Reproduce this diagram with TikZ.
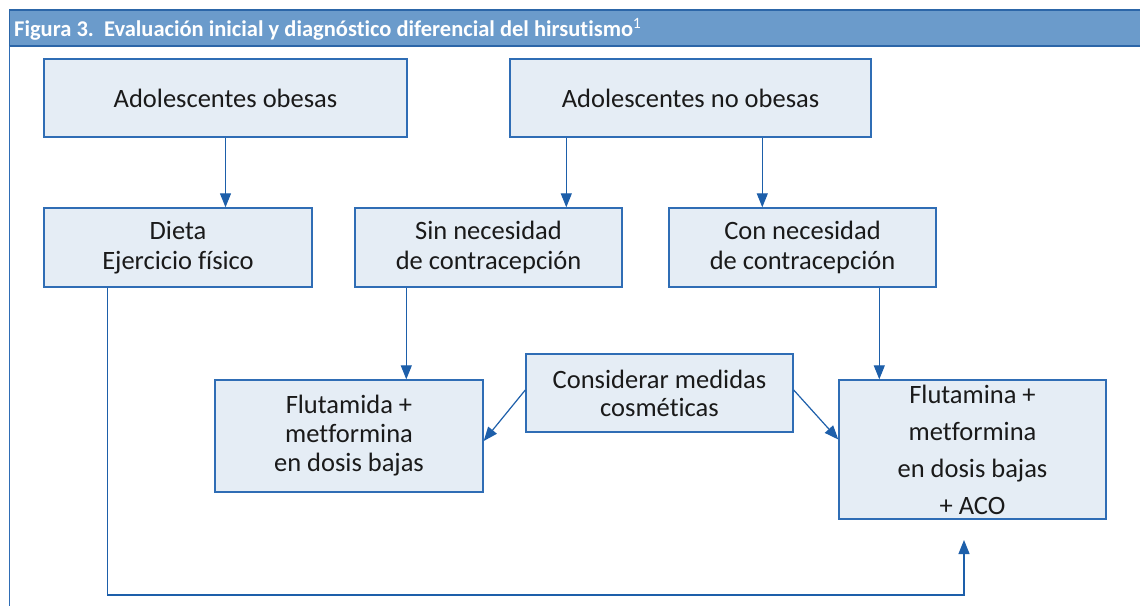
\documentclass[tikz,border=0pt]{standalone}
\usepackage{fontspec}
\setmainfont{Carlito}[Ligatures={TeX,NoCommon}]
\usetikzlibrary{arrows.meta,calc}
\definecolor{boxfill}{HTML}{E5EDF5}
\definecolor{boxline}{HTML}{2F6DB5}
\definecolor{arrcol}{HTML}{1D5FAA}
\definecolor{headfill}{HTML}{6B9BCB}
\definecolor{headline}{HTML}{2C66A8}
\definecolor{txt}{HTML}{1A1A1A}
\newcommand{\nolig}{\kern0pt}
\tikzset{
  stepbox/.style={draw=boxline, fill=boxfill, line width=1.4pt, inner sep=0pt,
    align=center, text=txt, font=\fontsize{26.5}{30}\selectfont},
  arr/.style={draw=arrcol, line width=1.2pt, -{Triangle[length=14pt,width=11pt]}},
}
\begin{document}
\begin{tikzpicture}[x=1pt,y=-1pt]
\useasboundingbox (0,0) rectangle (1140,605);
% frame
\fill[white] (0,0) rectangle (1140,605);
\draw[headline, line width=1.4pt, fill=headfill] (9.5,10) rectangle (1145,46);
\draw[boxline, line width=1.4pt] (9.5,46) -- (9.5,610);
\node[anchor=base west, text=white, inner sep=0pt, font=\fontsize{22.5}{24}\selectfont\bfseries] (title) at (14,36.5)
  {Figura 3.\ \ Evaluación inicial y diagnóst\nolig ico diferencial del hirsut\nolig ismo\textsuperscript{\mdseries 1}};
% boxes
\node[stepbox, minimum width=363pt, minimum height=78pt] (b1) at (225.5,98) {Adolescentes obesas};
\node[stepbox, minimum width=361pt, minimum height=78pt] (b2) at (690.5,98) {Adolescentes no obesas};
\node[stepbox, minimum width=268pt, minimum height=79pt] (b3) at (178,247.5) {Dieta\\Ejercicio físico};
\node[stepbox, minimum width=267pt, minimum height=79pt] (b4) at (488.5,247.5) {Sin necesidad\\de contracepción};
\node[stepbox, minimum width=267pt, minimum height=79pt] (b5) at (802.5,247.5) {Con necesidad\\de contracepción};
\node[stepbox, minimum width=268pt, minimum height=112pt, font=\fontsize{26.5}{29}\selectfont] (b6) at (349,436) {Flutamida +\\metformina\\en dosis bajas};
\node[stepbox, minimum width=267pt, minimum height=78pt, font=\fontsize{26.5}{28}\selectfont] (b7) at (659.5,393) {Considerar medidas\\cosmét\nolig icas};
\node[stepbox, minimum width=267pt, minimum height=139pt, font=\fontsize{26.5}{37}\selectfont] (b8) at (972.5,449.5) {Flutamina +\\metformina\\en dosis bajas\\+ ACO};
% connectors
\draw[arr] (b1.south) -- (b1.south |- b3.north);
\draw[arr] ([xshift=57pt]b2.south west) -- ([xshift=57pt]b2.south west |- b4.north);
\draw[arr] ([xshift=253pt]b2.south west) -- ([xshift=253pt]b2.south west |- b5.north);
\draw[arr] ([xshift=52pt]b4.south west) -- ([xshift=52pt]b4.south west |- b6.north);
\draw[arr] ([xshift=211pt]b5.south west) -- ([xshift=211pt]b5.south west |- b8.north);
\draw[arr] ([yshift=3pt]b7.west) -- ([yshift=-5pt]b6.east);
\draw[arr] ([yshift=3pt]b7.east) -- ([yshift=10pt]b8.west);
\coordinate (loopend) at (964,540);
\draw[arr] ([xshift=64pt]b3.south west) -- ([xshift=64pt]b3.south west |- 0,595) -- (loopend |- 0,595) -- (loopend);
\end{tikzpicture}
\end{document}
